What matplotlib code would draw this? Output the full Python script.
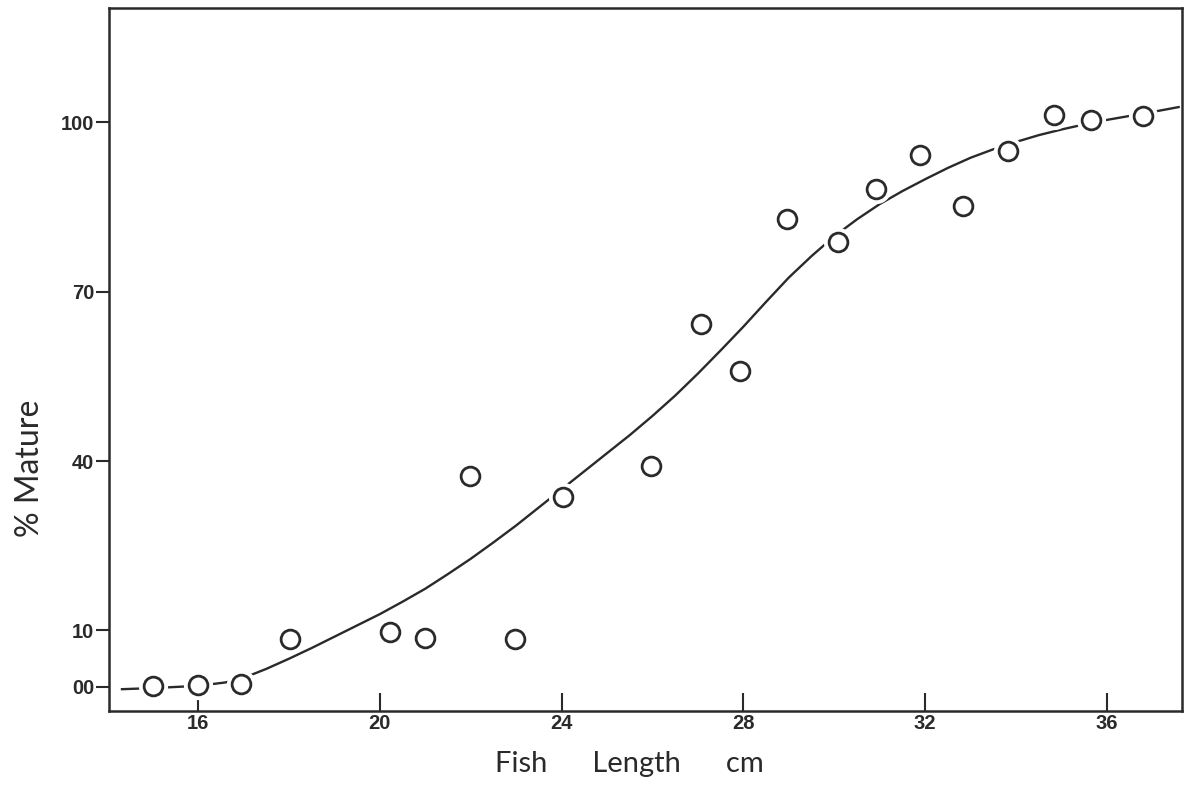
import matplotlib
matplotlib.use("Agg")
import matplotlib.pyplot as plt

# observed maturity by length class
length_cm = [15.0, 16.0, 16.95, 18.02, 20.22, 20.99, 21.98, 22.97, 24.03, 25.97,
             27.07, 27.93, 28.95, 30.07, 30.91, 31.89, 32.84, 33.82, 34.84, 35.65, 36.79]
pct_mature = [0.1, 0.3, 0.5, 8.5, 9.7, 8.7, 37.3, 8.5, 33.6, 39.1,
              64.2, 55.9, 82.8, 78.8, 88.1, 94.2, 85.1, 94.9, 101.2, 100.4, 101.1]

# hand-fitted maturity ogive
ogive_x = [14.3, 15.0, 16.0, 16.6, 17.0, 17.5, 18.0, 18.5, 19.0, 19.5, 20.0, 20.5,
           21.0, 21.5, 22.0, 22.5, 23.0, 23.5, 24.0, 24.5, 25.0, 25.5, 26.0, 26.5,
           27.0, 27.5, 28.0, 28.5, 29.0, 29.5, 30.0, 30.5, 31.0, 31.5, 32.0, 32.5,
           33.0, 33.5, 34.0, 34.5, 35.0, 35.5, 36.0, 36.5, 37.0, 37.6]
ogive_y = [-0.4, -0.2, 0.2, 0.8, 1.6, 3.2, 5.0, 6.9, 8.9, 10.9, 12.9, 15.1,
           17.4, 20.0, 22.7, 25.6, 28.6, 31.8, 35.0, 38.2, 41.4, 44.6, 48.0, 51.6,
           55.5, 59.6, 63.8, 68.2, 72.5, 76.3, 79.8, 82.8, 85.5, 87.8, 89.9, 91.9,
           93.7, 95.2, 96.5, 97.7, 98.7, 99.6, 100.4, 101.1, 101.8, 102.7]

x_ticks = [16, 20, 24, 28, 32, 36]
y_ticks = [0, 10, 40, 70, 100]
y_tick_labels = ["00", "10", "40", "70", "100"]

tick_font = ["Liberation Sans Narrow", "Liberation Sans", "DejaVu Sans"]
label_font = ["Lato", "DejaVu Sans"]
ink = "#2a2a2a"

fig = plt.figure(figsize=(11.9, 7.87), dpi=100)
ax = fig.add_axes([0.0916, 0.0966, 0.9017, 0.8932])

ax.plot(ogive_x, ogive_y, color=ink, lw=1.7, zorder=2, solid_capstyle="butt")
# white halo so the curve breaks around each circle
ax.plot(length_cm, pct_mature, "o", ms=21, mfc="white", mec="white", mew=0, zorder=2.1)
ax.plot(length_cm, pct_mature, "o", ms=13.5, mfc="white", mec=ink, mew=2.0, zorder=2.2)

ax.set_xlim(14.04, 37.65)
ax.set_ylim(-4.25, 120.2)

ax.set_xticks(x_ticks)
ax.set_xticklabels([str(t) for t in x_ticks])
ax.set_yticks(y_ticks)
ax.set_yticklabels(y_tick_labels)

ax.tick_params(axis="x", direction="in", length=13, width=1.5, color=ink, pad=2)
ax.tick_params(axis="y", direction="out", length=9.5, width=1.5, color=ink, pad=1)
for lab in ax.get_xticklabels() + ax.get_yticklabels():
    lab.set_family(tick_font)
    lab.set_fontweight("bold")
    lab.set_fontsize(14.5)
    lab.set_color(ink)

for sp in ax.spines.values():
    sp.set_linewidth(1.8)
    sp.set_color(ink)

ax.set_xlabel("Fish      Length      cm", family=label_font, fontsize=21, color=ink)
ax.xaxis.set_label_coords(0.485, -0.057)
ax.set_ylabel("% Mature", family=label_font, fontsize=23, color=ink)
ax.yaxis.set_label_coords(-0.06, 0.345)

fig.savefig("out.png", dpi=100, facecolor="white")
